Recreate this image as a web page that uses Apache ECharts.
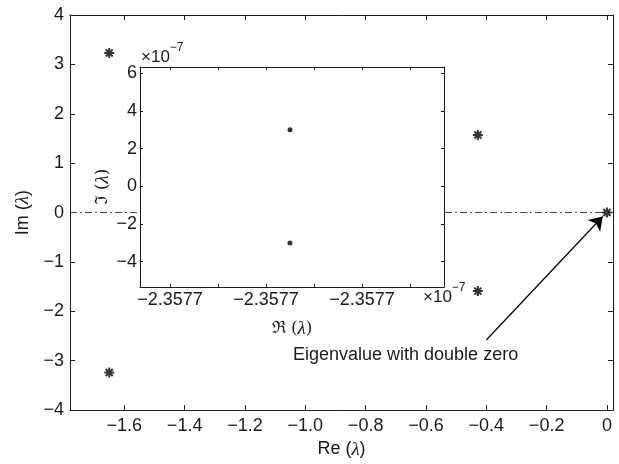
<!DOCTYPE html>
<html>
<head>
<meta charset="utf-8">
<script src="https://cdn.jsdelivr.net/npm/echarts@6.0.0/dist/echarts.min.js"></script>
<style>
html, body { margin: 0; padding: 0; background: #fff; }
#chart { width: 619px; height: 464px; }
</style>
</head>
<body>
<div id="chart"></div>
<script>
// eigenvalues in the main plot
const eigRe = [-1.65, -1.65, -0.428, -0.428, 0];
const eigIm = [3.23, -3.24, 1.57, -1.59, 0];
// zoom on the double zero: re in tick steps (all read -2.3577e-7), im in 1e-7
const zoomRe = [2.5, 2.5];
const zoomIm = [3, -3];

const reTicks = [-1.6, -1.4, -1.2, -1.0, -0.8, -0.6, -0.4, -0.2, 0];
const imTicks = [-4, -3, -2, -1, 0, 1, 2, 3, 4];
const zoomReTicks = [0, 1, 2, 3, 4, 5];
const zoomReLabels = ['−2.3577', '', '−2.3577', '', '−2.3577', ''];
const zoomImTicks = [-4, -2, 0, 2, 4, 6];

const arrowFrom = [-0.40, -2.58];
const arrowTo = [-0.014, -0.08];

const ink = '#1a1a1a';
const font = '"Liberation Sans", Arial, sans-serif';
const star = 'path://M-1,-5L1,-5L1,5L-1,5Z M-5,-1L5,-1L5,1L-5,1Z ' +
    'M-2.8,-4.2L4.2,2.8L2.8,4.2L-4.2,-2.8Z M-4.2,2.8L2.8,-4.2L4.2,-2.8L-2.8,4.2Z';

function minus(v, d) {
    let s = Math.abs(v).toFixed(d);
    if (Math.abs(v) < 1e-9) return '0';
    return v < 0 ? '−' + s : s;
}

const rich = {
    a: { fontFamily: font, fontSize: 18, color: ink },
    b: { fontFamily: '"Liberation Serif", serif', fontStyle: 'italic', fontSize: 19, color: ink },
    c: { fontFamily: '"DejaVu Serif", serif', fontSize: 17, color: ink }
};

function axis(grid, pos, min, max, ticks, len, fmt, margin) {
    return {
        type: 'value', gridIndex: grid, position: pos, min: min, max: max,
        splitLine: { show: false },
        axisLine: { show: true, onZero: false, lineStyle: { color: ink, width: 1 } },
        axisTick: { show: true, inside: true, length: len, customValues: ticks, lineStyle: { color: ink } },
        axisLabel: fmt ? {
            show: true, customValues: ticks, formatter: fmt, margin: margin,
            color: ink, fontSize: 18, fontFamily: font
        } : { show: false },
        z: grid ? 8 : 2
    };
}

let xMain = axis(0, 'bottom', -1.78, 0.02, reTicks, 5, v => minus(v, v === 0 ? 0 : 1), 7);
xMain.name = '{a|Re (}{b|λ}{a|)}';
xMain.nameLocation = 'middle';
xMain.nameGap = 19;
xMain.nameTextStyle = { rich: rich };

let yMain = axis(0, 'left', -4, 4, imTicks, 5, v => minus(v, 0), 6);
yMain.name = '{a|Im (}{b|λ}{a|)}';
yMain.nameLocation = 'middle';
yMain.nameGap = 36;
yMain.nameTextStyle = { rich: rich };

let xZoom = axis(1, 'bottom', -0.625, 5.71, zoomReTicks, 3, v => zoomReLabels[zoomReTicks.indexOf(v)], 4);
xZoom.name = '{c|ℜ (}{b|λ}{c|)}';
xZoom.nameLocation = 'middle';
xZoom.nameGap = 32;
xZoom.nameTextStyle = { rich: rich };

let yZoom = axis(1, 'left', -5.34, 6.33, zoomImTicks, 3, v => minus(v, 0), 3);
yZoom.name = '{c|ℑ (}{b|λ}{c|)}';
yZoom.nameLocation = 'middle';
yZoom.nameGap = 21;
yZoom.nameTextStyle = { rich: rich, padding: [0, 20, 0, 0] };

let option = {
    animation: false,
    backgroundColor: '#fff',
    grid: [
        { left: 70, top: 15, right: 6, bottom: 53 },
        { left: 140, top: 67, right: 175, bottom: 177, show: true, backgroundColor: '#fff', borderWidth: 0, z: 6 }
    ],
    xAxis: [
        xMain,
        axis(0, 'top', -1.78, 0.02, reTicks, 5),
        xZoom,
        axis(1, 'top', -0.625, 5.71, zoomReTicks, 3)
    ],
    yAxis: [
        yMain,
        axis(0, 'right', -4, 4, imTicks, 5),
        yZoom,
        axis(1, 'right', -5.34, 6.33, zoomImTicks, 3)
    ],
    series: [{
        type: 'scatter',
        xAxisIndex: 0,
        yAxisIndex: 0,
        data: eigRe.map((x, i) => [x, eigIm[i]]),
        symbol: star,
        symbolSize: 10,
        itemStyle: { color: '#000' },
        z: 3,
        markLine: {
            silent: true,
            symbol: 'none',
            label: { show: false },
            lineStyle: { color: '#000', width: 1.2, type: 'solid' },
            data: [
                { yAxis: 0, lineStyle: { type: [7, 3, 2, 3], color: '#444', width: 1 } },
                [{ coord: arrowFrom, symbol: 'none' }, { coord: arrowTo, symbol: 'arrow', symbolSize: 13 }]
            ]
        }
    }, {
        type: 'scatter',
        xAxisIndex: 2,
        yAxisIndex: 2,
        data: zoomRe.map((x, i) => [x, zoomIm[i]]),
        symbol: 'circle',
        symbolSize: 5,
        itemStyle: { color: '#000' },
        z: 9,
        markLine: {
            silent: true,
            symbol: 'none',
            label: { show: false },
            lineStyle: { type: [4, 2, 1, 2], color: '#444', width: 1 },
            data: [{ yAxis: 0 }]
        }
    }],
    graphic: [{
        type: 'text', left: 141, top: 42, z: 10,
        style: {
            text: '{a|×10}{s|−7}',
            rich: {
                a: { fontSize: 17, fontFamily: font, fill: ink, lineHeight: 24, verticalAlign: 'bottom' },
                s: { fontSize: 12, fontFamily: font, fill: ink, lineHeight: 24, verticalAlign: 'top' }
            }
        }
    }, {
        type: 'text', left: 423, top: 282, z: 10,
        style: {
            text: '{a|×10}{s|−7}',
            rich: {
                a: { fontSize: 17, fontFamily: font, fill: ink, lineHeight: 24, verticalAlign: 'bottom' },
                s: { fontSize: 12, fontFamily: font, fill: ink, lineHeight: 24, verticalAlign: 'top' }
            }
        }
    }, {
        type: 'text', left: 293, top: 346, z: 10,
        style: { text: 'Eigenvalue with double zero', fontSize: 18, fontFamily: font, fill: ink }
    }]
};

let MyChart = echarts.init(document.getElementById('chart'));
MyChart.setOption(option);
</script>
</body>
</html>
